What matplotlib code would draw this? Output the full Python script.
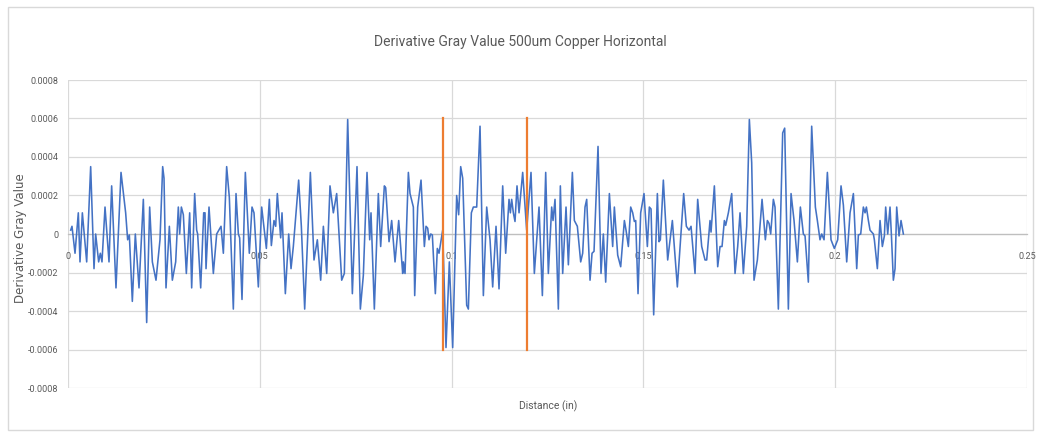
import matplotlib
matplotlib.use("Agg")
import matplotlib.pyplot as plt
from matplotlib.patches import Rectangle

# Derivative of the gray-value profile along the horizontal line (distance in inches)
distance = [
    0.00070, 0.00104, 0.00183, 0.00269, 0.00313, 0.00374, 0.00487, 0.00591, 0.00678, 0.00721,
    0.00799, 0.00843, 0.00886, 0.00965, 0.01069, 0.01138, 0.01251, 0.01382, 0.01503, 0.01555,
    0.01599, 0.01677, 0.01755, 0.01851, 0.01964, 0.02051,
    0.02129, 0.02199, 0.02294, 0.02398, 0.02468, 0.02503, 0.02555, 0.02642, 0.02720, 0.02807,
    0.02876, 0.02911, 0.02955, 0.03007, 0.03085, 0.03172, 0.03224, 0.03302, 0.03354, 0.03380,
    0.03459, 0.03537, 0.03572, 0.03598, 0.03676, 0.03789, 0.03876, 0.03989, 0.04050, 0.04136,
    0.04206, 0.04310,
    0.04380, 0.04441, 0.04475, 0.04536, 0.04623, 0.04727, 0.04797, 0.04849, 0.04962, 0.05049,
    0.05171, 0.05249, 0.05301, 0.05370, 0.05414, 0.05457, 0.05544, 0.05579, 0.05666, 0.05753,
    0.05814, 0.05874, 0.06013, 0.06083, 0.06170, 0.06318, 0.06413,
    0.06500, 0.06587, 0.06657, 0.06744, 0.06830, 0.06917, 0.07004, 0.07135, 0.07204, 0.07291,
    0.07413, 0.07534, 0.07621, 0.07699, 0.07795, 0.07865, 0.07899, 0.07986, 0.08090, 0.08151,
    0.08247, 0.08282, 0.08369, 0.08438, 0.08525, 0.08621, 0.08725,
    0.08742, 0.08786, 0.08873, 0.08916, 0.09003, 0.09038, 0.09116, 0.09203, 0.09290, 0.09333,
    0.09377, 0.09411, 0.09455, 0.09498, 0.09576, 0.09628, 0.09672, 0.09768, 0.09854, 0.09941,
    0.10028, 0.10132, 0.10184, 0.10237, 0.10289, 0.10393, 0.10437, 0.10515, 0.10567, 0.10654,
    0.10741, 0.10828, 0.10915,
    0.10958, 0.11002, 0.11071, 0.11158, 0.11236, 0.11332, 0.11410, 0.11497, 0.11532, 0.11566,
    0.11610, 0.11653, 0.11705, 0.11758, 0.11853, 0.11957, 0.12070, 0.12157, 0.12279, 0.12366,
    0.12453, 0.12522, 0.12609, 0.12644, 0.12696, 0.12783, 0.12835, 0.12896, 0.12983, 0.13044,
    0.13148,
    0.13200, 0.13278, 0.13365, 0.13417, 0.13478, 0.13522, 0.13609, 0.13661, 0.13713, 0.13817,
    0.13895, 0.13956, 0.14017, 0.14113, 0.14199, 0.14243, 0.14330, 0.14408, 0.14504, 0.14547,
    0.14608, 0.14669, 0.14721, 0.14764, 0.14799, 0.14860, 0.14929, 0.15016, 0.15103, 0.15155,
    0.15199, 0.15268, 0.15364,
    0.15407, 0.15442, 0.15520, 0.15633, 0.15755, 0.15885, 0.16050, 0.16120, 0.16190, 0.16242,
    0.16346, 0.16415, 0.16520, 0.16607, 0.16650, 0.16737, 0.16763, 0.16850, 0.16937, 0.16998,
    0.17050, 0.17111, 0.17145, 0.17215, 0.17302, 0.17389, 0.17458, 0.17519, 0.17606,
    0.17693, 0.17762, 0.17823, 0.17884, 0.17971, 0.18093, 0.18179, 0.18232, 0.18275, 0.18318,
    0.18388, 0.18431, 0.18518, 0.18631, 0.18683, 0.18779, 0.18849, 0.18927, 0.19014, 0.19092,
    0.19170, 0.19214, 0.19300, 0.19387, 0.19483, 0.19535, 0.19604, 0.19648, 0.19709, 0.19796,
    0.19891, 0.19978, 0.20065, 0.20152, 0.20213, 0.20300, 0.20387, 0.20474, 0.20561, 0.20604,
    0.20665, 0.20734, 0.20778, 0.20813, 0.20865, 0.20908, 0.20995, 0.21021, 0.21099, 0.21169,
    0.21229, 0.21282, 0.21316, 0.21369, 0.21429, 0.21464, 0.21516, 0.21560, 0.21603, 0.21664,
    0.21716, 0.21777,
]

# values in units of 1e-4
deriv_e4 = [
    0.2, 0.4, -1.0, 1.1, -1.45, 1.1, -1.45, 3.5, -1.8, 0.0,
    -1.45, -1.0, -1.45, 1.4, -1.45, 2.5, -2.8, 3.2, 1.1, -0.3,
    -0.05, -3.5, 0.0, -2.8, 1.8, -4.6,
    1.4, -1.45, -2.4, -0.3, 3.5, 2.9, -2.8, 0.4, -2.4, -1.45,
    1.4, 0.0, 1.4, 1.0, -2.05, 1.1, -2.8, 2.1, 0.2, 0.0,
    -2.8, 1.1, 1.1, -1.8, 1.4, -2.05, 0.0, 0.4, -1.0, 3.5,
    1.9, -3.9,
    2.1, 0.0, -0.2, -3.4, 3.2, -1.0, 1.4, 1.1, -2.75, 1.4,
    -0.75, 1.8, -0.6, 0.7, 0.4, 2.1, -0.2, 1.1, -3.1, 0.0,
    -1.8, -0.65, 2.8, 0.4, -3.9, 3.2, -1.35,
    -0.3, -2.4, 0.4, -2.05, 2.5, 1.1, 2.1, -2.4, -2.05, 5.95,
    -3.1, 3.5, -3.9, -2.15, 3.2, -0.3, 1.1, -3.9, 2.1, -0.65,
    2.5, 2.4, -0.4, 0.7, -1.45, 0.7, -2.05,
    -1.45, -2.05, 3.2, 2.1, 1.4, -3.2, 1.4, 2.8, -0.65, 0.4,
    0.3, -0.3, 0.0, -0.05, -3.1, -0.75, -1.0, 0.2, -5.9, -1.45,
    -5.9, 2.0, 1.0, 3.5, 2.9, -3.7, -3.9, 1.1, 1.4, 1.4,
    5.6, -3.2, 1.4,
    0.55, -0.3, -2.75, 0.4, -2.85, 2.5, -1.0, 1.8, 1.1, 1.8,
    1.1, 0.65, 2.5, 1.1, 3.2, 0.2, 3.2, -2.05, 1.4, -3.2,
    3.2, -2.05, 1.4, 0.7, 1.8, -3.9, 2.5, -2.05, 1.4, -1.6,
    3.2,
    0.7, 0.4, -1.45, -1.0, 1.4, 1.8, -2.4, -1.0, -0.9, 4.55,
    -2.05, 0.0, -2.5, 2.1, -0.65, 1.4, -1.1, -1.7, 0.7, 0.2,
    -0.65, 1.4, 1.1, 0.65, 0.7, -3.1, 1.1, 2.1, -0.65, 1.4,
    1.3, -4.2, 2.1,
    -0.4, -0.3, 2.8, -1.35, 0.7, -2.75, 2.1, 0.4, 0.2, 0.4,
    -2.05, 1.8, -0.65, -1.35, -1.35, 0.7, 0.1, 2.5, -1.7, -0.65,
    -0.65, 0.7, 0.45, 1.1, 2.1, -2.05, -0.65, 1.1, -2.05,
    0.4, 5.95, 3.7, -2.4, -1.35, 1.8, -0.3, 0.7, 0.55, 0.0,
    1.8, 1.4, -3.9, 5.25, 5.5, -3.9, 2.1, 0.7, -1.45, 1.4,
    0.0, -0.1, -2.5, 5.6, 1.4, 0.7, -0.3, 0.0, -0.3, 3.2,
    -0.3, -0.75, -0.3, 2.5, 1.5, -1.45, 1.1, 2.1, -1.8, -0.05,
    0.0, 1.4, 1.1, 1.4, 0.7, 0.2, 0.0, -0.3, -1.8, 0.7,
    -0.65, -0.1, 1.4, 0.0, 1.4, 0.0, -2.4, -1.8, 1.4, -0.1,
    0.7, 0.0,
]
deriv = [v * 1e-4 for v in deriv_e4]

# boundary markers (distance in inches) and their vertical extent
marker_x = [0.0978, 0.1197]
marker_lo, marker_hi = -0.0006, 0.0006

x_ticks = [0, 0.05, 0.1, 0.15, 0.2, 0.25]
x_tick_labels = ["0", "0.05", "0.1", "0.15", "0.2", "0.25"]
y_ticks = [-0.0008, -0.0006, -0.0004, -0.0002, 0, 0.0002, 0.0004, 0.0006, 0.0008]
y_tick_labels = ["-0.0008", "-0.0006", "-0.0004", "-0.0002", "0",
                 "0.0002", "0.0004", "0.0006", "0.0008"]

plt.rcParams["font.family"] = ["Roboto", "DejaVu Sans"]

W, H = 1037, 436
fig = plt.figure(figsize=(W / 100, H / 100), dpi=100)
fig.patches.append(Rectangle((8 / W, 1 - 430 / H), 1025 / W, 423 / H,
                             transform=fig.transFigure, facecolor="none",
                             edgecolor="#d9d9d9", linewidth=1.0, zorder=-1))

ax = fig.add_axes([68 / W, 1 - 388 / H, 959 / W, 308 / H])
ax.set_facecolor("none")

ax.plot(distance, deriv, color="#4472C4", linewidth=1.15, zorder=3)
for mx in marker_x:
    ax.plot([mx, mx], [marker_lo, marker_hi], color="#ED7D31", linewidth=1.6, zorder=4)

ax.set_xlim(0, 0.25)
ax.set_ylim(-0.0008, 0.0008)
ax.set_xticks(x_ticks)
ax.set_xticklabels(x_tick_labels)
ax.set_yticks(y_ticks)
ax.set_yticklabels(y_tick_labels)
ax.grid(True, color="#d9d9d9", linewidth=0.9, zorder=0)
ax.set_axisbelow(True)

for side in ("top", "right", "left"):
    ax.spines[side].set_visible(False)
ax.spines["bottom"].set_position(("data", 0))
ax.spines["bottom"].set_color("#bfbfbf")
ax.spines["bottom"].set_linewidth(0.9)

ax.tick_params(axis="both", length=0, labelsize=6.5, labelcolor="#595959")
ax.tick_params(axis="x", pad=13)
ax.tick_params(axis="y", pad=7)

fig.text(520 / W, 1 - 42 / H, "Derivative Gray Value 500um Copper Horizontal",
         ha="center", va="center", fontsize=10, color="#595959")
fig.text(548 / W, 1 - 406 / H, "Distance (in)", ha="center", va="center",
         fontsize=7.5, color="#595959")
fig.text(21 / W, 1 - 238 / H, "Derivative Gray Value", ha="center", va="center",
         rotation=90, fontsize=8.5, color="#595959", family=["DejaVu Sans"])

fig.savefig("out.png", dpi=100)
